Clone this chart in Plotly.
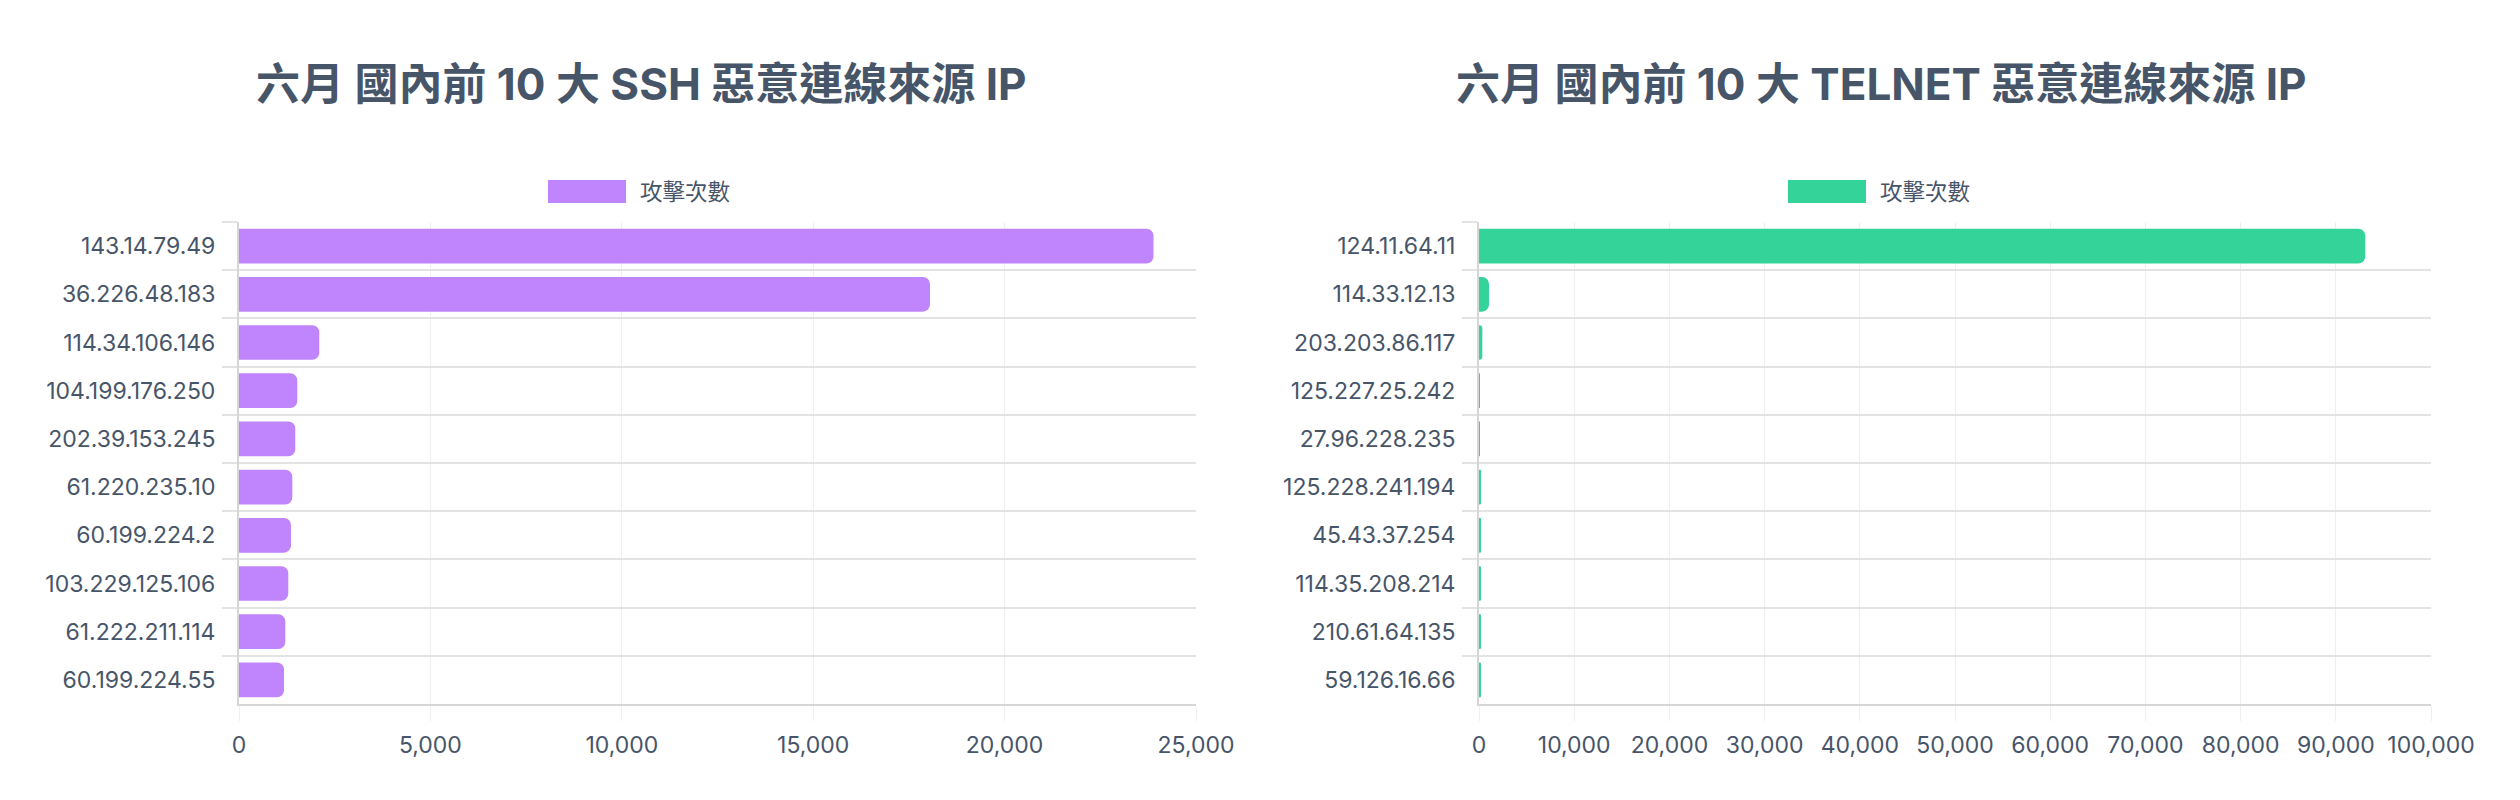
import plotly.graph_objects as go

# ---- data ----
ssh_title = "六月 國內前 10 大 SSH 惡意連線來源 IP"
ssh_ips = ["143.14.79.49", "36.226.48.183", "114.34.106.146", "104.199.176.250",
           "202.39.153.245", "61.220.235.10", "60.199.224.2", "103.229.125.106",
           "61.222.211.114", "60.199.224.55"]
ssh_counts = [23890, 18050, 2098, 1523, 1471, 1393, 1358, 1288, 1210, 1176]

telnet_title = "六月 國內前 10 大 TELNET 惡意連線來源 IP"
telnet_ips = ["124.11.64.11", "114.33.12.13", "203.203.86.117", "125.227.25.242",
              "27.96.228.235", "125.228.241.194", "45.43.37.254", "114.35.208.214",
              "210.61.64.135", "59.126.16.66"]
telnet_counts = [93100, 1050, 350, 40, 40, 110, 110, 150, 150, 150]

series_name = "攻擊次數"
ssh_range = [0, 25000]
ssh_dtick = 5000
telnet_range = [0, 100000]
telnet_dtick = 10000

# ---- style ----
PAGE_W, PAGE_H = 2520, 800
OFF = 8  # default body margin of the page
W, H = PAGE_W - 2 * OFF, PAGE_H - 2 * OFF
TEXT = "#475569"
PURPLE = "#c084fc"
GREEN = "#34d399"
FONT = "Inter, 'Noto Sans CJK TC', sans-serif"


def px(xpage):
    return (xpage - OFF) / W


def py(ypage):
    return 1 - (ypage - OFF) / H


fig = go.Figure()

fig.add_trace(go.Bar(x=ssh_counts, y=ssh_ips, orientation="h", name=series_name,
                     marker=dict(color=PURPLE, cornerradius=7, line=dict(width=0)),
                     xaxis="x", yaxis="y", showlegend=False))
fig.add_trace(go.Bar(x=telnet_counts, y=telnet_ips, orientation="h", name=series_name,
                     marker=dict(color=GREEN, cornerradius=7, line=dict(width=0)),
                     xaxis="x2", yaxis="y2", showlegend=False))

ydom = [py(704), py(222)]


def xaxis_cfg(rng, dt, dom, anchor):
    return dict(domain=dom, range=rng, dtick=dt, tick0=0, tickformat=",",
                anchor=anchor, automargin=False,
                showgrid=True, gridcolor="#efefef", gridwidth=1,
                zeroline=False, showline=True, linecolor="#d6d6d6", linewidth=2,
                ticks="outside", ticklen=15, tickcolor="#efefef", tickwidth=1,
                ticklabelstandoff=4,
                tickfont=dict(family=FONT, size=23, color=TEXT), fixedrange=True)


def yaxis_cfg(n, anchor):
    return dict(domain=ydom, type="category", range=[n - 0.5, -0.5], anchor=anchor,
                automargin=False,
                tickson="boundaries", showgrid=True, gridcolor="#e3e3e3", gridwidth=2,
                showline=True, linecolor="#d6d6d6", linewidth=2,
                ticks="outside", ticklen=15, tickcolor="#e3e3e3", tickwidth=2,
                ticklabelstandoff=17,
                tickfont=dict(family=FONT, size=23, color=TEXT), fixedrange=True)


fig.update_layout(
    template="none",
    width=W, height=H,
    margin=dict(l=0, r=0, t=0, b=0, autoexpand=False),
    paper_bgcolor="white", plot_bgcolor="white",
    bargap=0.28,
    font=dict(family=FONT, color=TEXT),
    xaxis=xaxis_cfg(ssh_range, ssh_dtick, [px(239), px(1196)], "y"),
    yaxis=yaxis_cfg(len(ssh_ips), "x"),
    xaxis2=xaxis_cfg(telnet_range, telnet_dtick, [px(1479), px(2431)], "y2"),
    yaxis2=yaxis_cfg(len(telnet_ips), "x2"),
)

# titles
for cx, t in [(641, ssh_title), (1881, telnet_title)]:
    fig.add_annotation(x=px(cx), y=py(84), xref="paper", yref="paper",
                       text=t, showarrow=False, xanchor="center", yanchor="middle",
                       font=dict(family=FONT, size=44, color=TEXT, weight="bold"))

# legends (swatch + label)
for x0, col in [(548, PURPLE), (1788, GREEN)]:
    fig.add_shape(type="rect", xref="paper", yref="paper",
                  x0=px(x0), x1=px(x0 + 78), y0=py(203), y1=py(180),
                  fillcolor=col, line=dict(width=0))
    fig.add_annotation(x=px(x0 + 90), y=py(191.5), xref="paper", yref="paper",
                       text=series_name, showarrow=False, xanchor="left", yanchor="middle",
                       font=dict(family=FONT, size=22.5, color=TEXT))

fig.write_html("out.html", config={"displayModeBar": False})
